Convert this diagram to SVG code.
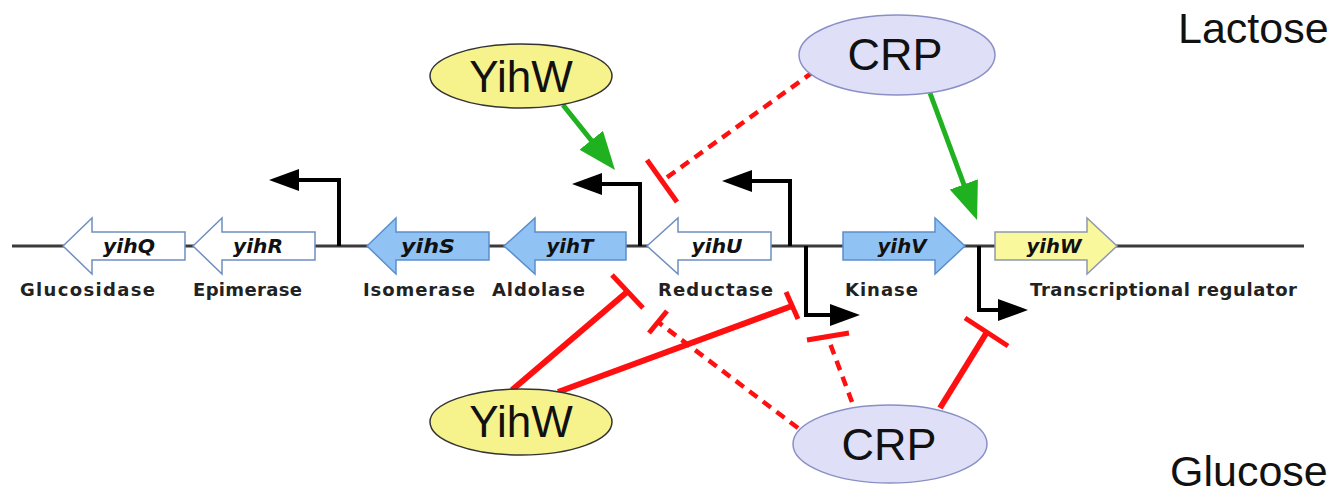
<svg xmlns="http://www.w3.org/2000/svg" width="1337" height="497" viewBox="0 0 1337 497">
<style>
.bb{stroke:#3a3a3a;stroke-width:3;fill:none}
.gw{fill:#ffffff;stroke:#6f8fc0;stroke-width:1.5}
.gb{fill:#90c2f3;stroke:#5b8fcc;stroke-width:1.5}
.gy{fill:#f9f89c;stroke:#8f98b0;stroke-width:1.5}
.gl{font-family:"DejaVu Sans",sans-serif;font-weight:bold;font-style:italic;font-size:19px;fill:#111;text-anchor:middle}
.fl{font-family:"DejaVu Sans",sans-serif;font-weight:bold;font-size:18px;fill:#222}
.prom{stroke:#000;stroke-width:4;fill:none;stroke-linejoin:miter}
.act{stroke:#1fb11f;stroke-width:5;fill:none}
.inh{stroke:#ff1010;stroke-width:6;fill:none}
.inhd{stroke:#ff1010;stroke-width:4.5;fill:none;stroke-dasharray:10 7}
.bar{stroke:#ff1010;stroke-width:5;fill:none}
.ey{fill:#f6f38d;stroke:#333;stroke-width:1.5}
.ec{fill:#dfe0f7;stroke:#8a90c6;stroke-width:1.5}
.big{font-family:"Liberation Sans",Arial,sans-serif;fill:#111;text-anchor:middle}
.cond{font-family:"Liberation Sans",Arial,sans-serif;font-size:43px;fill:#111}
</style>
<defs>
<marker id="ahB" markerUnits="userSpaceOnUse" viewBox="0 0 30 22" refX="10" refY="11" markerWidth="30" markerHeight="22" orient="auto">
<path d="M0,0 L30,11 L0,22 z" fill="#000"/>
</marker>
<marker id="ahG" markerUnits="userSpaceOnUse" viewBox="0 0 38 30" refX="14" refY="15" markerWidth="38" markerHeight="30" orient="auto">
<path d="M0,0 L38,15 L0,30 z" fill="#1fb11f"/>
</marker>
</defs>
<rect width="1337" height="497" fill="#fff"/>
<g id="backbone"><line class="bb" x1="12" y1="246" x2="1304" y2="246"/></g>
<g id="genes">
<g id="yihQ"><polygon class="gw" points="63,246 92,218 92,232 185,232 185,260 92,260 92,274"/><text class="gl" x="129" y="253" textLength="52" lengthAdjust="spacingAndGlyphs">yihQ</text></g>
<g id="yihR"><polygon class="gw" points="193,246 222,218 222,232 315,232 315,260 222,260 222,274"/><text class="gl" x="258" y="253" textLength="50" lengthAdjust="spacingAndGlyphs">yihR</text></g>
<g id="yihS"><polygon class="gb" points="367,246 396,218 396,232 489,232 489,260 396,260 396,274"/><text class="gl" x="428" y="253" textLength="54" lengthAdjust="spacingAndGlyphs">yihS</text></g>
<g id="yihT"><polygon class="gb" points="504,246 535,218 535,232 626,232 626,260 535,260 535,274"/><text class="gl" x="570" y="253" textLength="47" lengthAdjust="spacingAndGlyphs">yihT</text></g>
<g id="yihU"><polygon class="gw" points="647,246 678,218 678,232 771,232 771,260 678,260 678,274"/><text class="gl" x="717" y="253" textLength="51" lengthAdjust="spacingAndGlyphs">yihU</text></g>
<g id="yihV"><polygon class="gb" points="843,232 935,232 935,218 965,246 935,274 935,260 843,260"/><text class="gl" x="902" y="253" textLength="49" lengthAdjust="spacingAndGlyphs">yihV</text></g>
<g id="yihWgene"><polygon class="gy" points="995,232 1087,232 1087,218 1117,246 1087,274 1087,260 995,260"/><text class="gl" x="1054" y="253" textLength="55" lengthAdjust="spacingAndGlyphs">yihW</text></g>
</g>
<g id="functions">
<text class="fl" x="20" y="296" textLength="135" lengthAdjust="spacing">Glucosidase</text>
<text class="fl" x="193" y="296" textLength="109" lengthAdjust="spacing">Epimerase</text>
<text class="fl" x="363" y="296" textLength="112" lengthAdjust="spacing">Isomerase</text>
<text class="fl" x="492" y="296" textLength="93" lengthAdjust="spacing">Aldolase</text>
<text class="fl" x="658" y="296" textLength="115" lengthAdjust="spacing">Reductase</text>
<text class="fl" x="845" y="296" textLength="73" lengthAdjust="spacing">Kinase</text>
<text class="fl" x="1030" y="296" textLength="267" lengthAdjust="spacing">Transcriptional regulator</text>
</g>
<g id="promoters">
<path class="prom" d="M339,246 V180 H289" marker-end="url(#ahB)"/>
<path class="prom" d="M640,246 V184 H592" marker-end="url(#ahB)"/>
<path class="prom" d="M790,246 V181 H742" marker-end="url(#ahB)"/>
<path class="prom" d="M806,246 V315 H840" marker-end="url(#ahB)"/>
<path class="prom" d="M979,246 V310 H1008" marker-end="url(#ahB)"/>
</g>
<g id="connectors">
<line class="act" x1="563" y1="105" x2="600" y2="151.2" marker-end="url(#ahG)"/>
<line class="act" x1="930" y1="93" x2="968.7" y2="197.5" marker-end="url(#ahG)"/>
<line class="inhd" x1="813" y1="72" x2="662" y2="181"/>
<line class="bar" x1="647" y1="160" x2="677" y2="202"/>
<line class="inh" x1="512" y1="390" x2="627" y2="292"/>
<line class="bar" x1="612" y1="275" x2="643" y2="308"/>
<line class="inh" x1="558" y1="392" x2="792" y2="306"/>
<line class="bar" x1="786" y1="292" x2="798" y2="319"/>
<line class="inh" x1="940" y1="408" x2="987" y2="332"/>
<line class="bar" x1="965" y1="318" x2="1008" y2="346"/>
<line class="inhd" x1="798" y1="428" x2="658" y2="322"/>
<line class="bar" x1="649" y1="333" x2="667" y2="311"/>
<line class="inhd" x1="852" y1="402" x2="828" y2="338"/>
<line class="bar" x1="807" y1="340" x2="849" y2="333"/>
</g>
<g id="YihW_top"><ellipse class="ey" cx="521" cy="76" rx="91" ry="32"/><text class="big" x="521" y="92" font-size="44">YihW</text></g>
<g id="CRP_top"><ellipse class="ec" cx="897" cy="55" rx="98" ry="40"/><text class="big" x="895" y="70" font-size="45">CRP</text></g>
<g id="YihW_bottom"><ellipse class="ey" cx="521" cy="422" rx="91" ry="33"/><text class="big" x="521" y="437" font-size="44">YihW</text></g>
<g id="CRP_bottom"><ellipse class="ec" cx="890" cy="444" rx="97" ry="39"/><text class="big" x="889" y="460" font-size="45">CRP</text></g>
<g id="conditions">
<text class="cond" x="1178" y="43">Lactose</text>
<text class="cond" x="1170" y="486">Glucose</text>
</g>
</svg>
